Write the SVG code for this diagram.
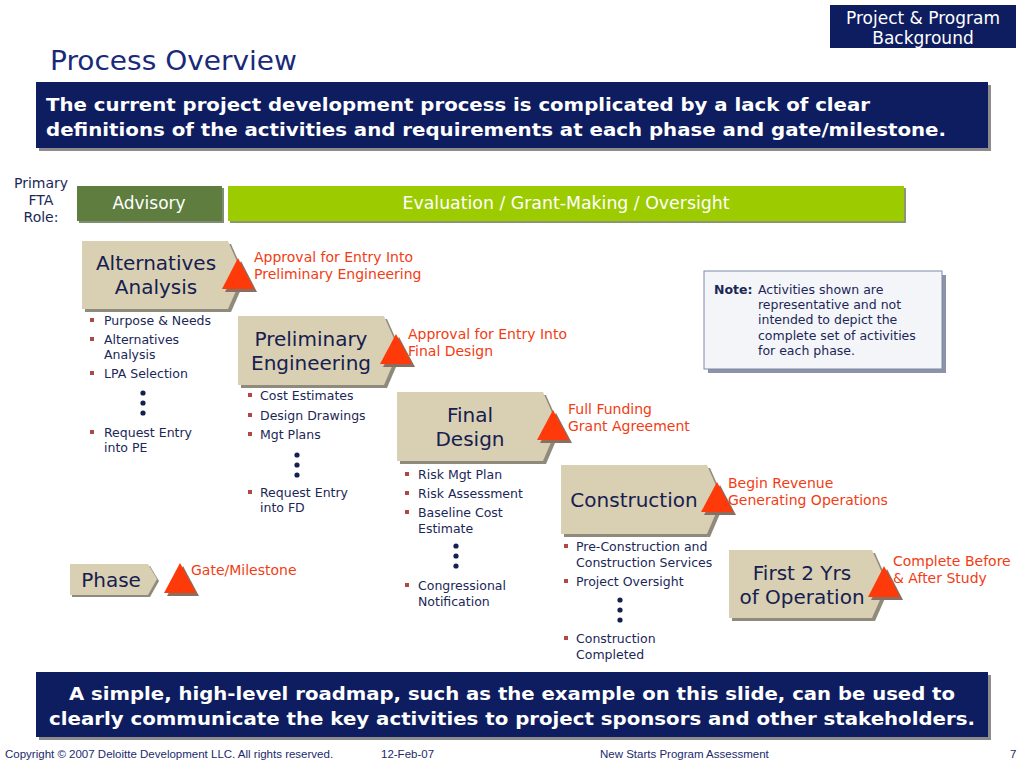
<svg xmlns="http://www.w3.org/2000/svg" width="1024" height="768" viewBox="0 0 1024 768">
<defs>
<style>
text{font-family:"DejaVu Sans",Verdana,sans-serif;}
.navy{fill:#0E1D5F;}
.shadow{fill:#8C8C8C;}
.phase{fill:#D9CFB3;}
.phs{fill:#8E8A7C;}
.ptxt{fill:#15204F;font-size:20px;text-anchor:middle;}
.gate{fill:#FF3A0A;}
.gsh{fill:#8A6F60;}
.glbl{fill:#F23C14;font-size:14px;}
.bl{fill:#1B2757;font-size:12.5px;}
.bul{fill:#B04848;}
.dot{fill:#15204F;}
.hdr{fill:#FFFFFF;font-size:18.5px;font-weight:bold;}
.foot{font-family:"Liberation Sans",Arial,sans-serif;font-size:11.5px;fill:#1B2A6C;}
</style>
</defs>
<rect width="1024" height="768" fill="#FFFFFF"/>

<g id="section-tag">
<rect x="830" y="5" width="186" height="43" class="navy"/>
<text x="923" y="24" fill="#FFFFFF" font-size="17" text-anchor="middle">Project &amp; Program</text>
<text x="923" y="44" fill="#FFFFFF" font-size="17" text-anchor="middle">Background</text>
</g>

<g id="title">
<text x="50" y="70" fill="#1B2A78" font-size="27" textLength="247" lengthAdjust="spacingAndGlyphs">Process Overview</text>
</g>

<g id="header-banner">
<rect x="39" y="85" width="952" height="66" class="shadow"/>
<rect x="36" y="82" width="952" height="66" class="navy"/>
<text x="46" y="111" class="hdr" textLength="824" lengthAdjust="spacingAndGlyphs">The current project development process is complicated by a lack of clear</text>
<text x="46" y="136" class="hdr" textLength="900" lengthAdjust="spacingAndGlyphs">definitions of the activities and requirements at each phase and gate/milestone.</text>
</g>

<g id="role-label">
<text x="41" y="188" fill="#1B2757" font-size="14" text-anchor="middle">Primary</text>
<text x="41" y="205" fill="#1B2757" font-size="14" text-anchor="middle">FTA</text>
<text x="41" y="222" fill="#1B2757" font-size="14" text-anchor="middle">Role:</text>
</g>

<g id="role-advisory">
<rect x="79" y="188" width="145" height="35" fill="#7F8C74"/>
<rect x="77" y="186" width="145" height="35" fill="#5E7D3E"/>
<text x="149" y="209" fill="#FFFFFF" font-size="17" text-anchor="middle">Advisory</text>
</g>

<g id="role-evaluation">
<rect x="230" y="188" width="676" height="35" fill="#8A9670"/>
<rect x="228" y="186" width="676" height="35" fill="#9CCC00"/>
<text x="566" y="209" fill="#FFFFFF" font-size="17" text-anchor="middle" textLength="327" lengthAdjust="spacingAndGlyphs">Evaluation / Grant-Making / Oversight</text>
</g>

<g id="connectors"></g>

<g id="phase-aa">
<polygon class="phs" points="85,244 231,244 246,278 231,312 85,312"/>
<polygon class="phase" points="82,241 228,241 243,275 228,309 82,309"/>
<text x="156" y="270" class="ptxt">Alternatives</text>
<text x="156" y="294" class="ptxt">Analysis</text>
</g>
<g id="gate-aa">
<polygon class="gsh" points="241,261 257,292 225,292"/>
<polygon class="gate" points="238,258 254,289 222,289"/>
<text x="254" y="262" class="glbl">Approval for Entry Into</text>
<text x="254" y="279" class="glbl">Preliminary Engineering</text>
</g>
<g id="list-aa">
<rect x="90" y="318" width="4" height="4" class="bul"/>
<text x="104" y="325" class="bl">Purpose &amp; Needs</text>
<rect x="90" y="337" width="4" height="4" class="bul"/>
<text x="104" y="344" class="bl">Alternatives</text>
<text x="104" y="359" class="bl">Analysis</text>
<rect x="90" y="371" width="4" height="4" class="bul"/>
<text x="104" y="378" class="bl">LPA Selection</text>
<circle cx="143" cy="393" r="2.6" class="dot"/>
<circle cx="143" cy="403" r="2.6" class="dot"/>
<circle cx="143" cy="413" r="2.6" class="dot"/>
<rect x="90" y="430" width="4" height="4" class="bul"/>
<text x="104" y="437" class="bl">Request Entry</text>
<text x="104" y="452" class="bl">into PE</text>
</g>

<g id="phase-pe">
<polygon class="phs" points="241,319 387,319 402,353 387,388 241,388"/>
<polygon class="phase" points="238,316 384,316 399,350 384,385 238,385"/>
<text x="311" y="346" class="ptxt">Preliminary</text>
<text x="311" y="370" class="ptxt">Engineering</text>
</g>
<g id="gate-pe">
<polygon class="gsh" points="399,337 415,367 383,367"/>
<polygon class="gate" points="396,334 412,364 380,364"/>
<text x="408" y="339" class="glbl">Approval for Entry Into</text>
<text x="408" y="356" class="glbl">Final Design</text>
</g>
<g id="list-pe">
<rect x="248" y="393" width="4" height="4" class="bul"/>
<text x="260" y="400" class="bl">Cost Estimates</text>
<rect x="248" y="413" width="4" height="4" class="bul"/>
<text x="260" y="420" class="bl">Design Drawings</text>
<rect x="248" y="432" width="4" height="4" class="bul"/>
<text x="260" y="439" class="bl">Mgt Plans</text>
<circle cx="297" cy="455" r="2.6" class="dot"/>
<circle cx="297" cy="465" r="2.6" class="dot"/>
<circle cx="297" cy="475" r="2.6" class="dot"/>
<rect x="248" y="490" width="4" height="4" class="bul"/>
<text x="260" y="497" class="bl">Request Entry</text>
<text x="260" y="512" class="bl">into FD</text>
</g>

<g id="phase-fd">
<polygon class="phs" points="400,395 546,395 561,429 546,464 400,464"/>
<polygon class="phase" points="397,392 543,392 558,426 543,461 397,461"/>
<text x="470" y="422" class="ptxt">Final</text>
<text x="470" y="446" class="ptxt">Design</text>
</g>
<g id="gate-fd">
<polygon class="gsh" points="556,413 572,443 540,443"/>
<polygon class="gate" points="553,410 569,440 537,440"/>
<text x="568" y="414" class="glbl">Full Funding</text>
<text x="568" y="431" class="glbl">Grant Agreement</text>
</g>
<g id="list-fd">
<rect x="405" y="472" width="4" height="4" class="bul"/>
<text x="418" y="479" class="bl">Risk Mgt Plan</text>
<rect x="405" y="491" width="4" height="4" class="bul"/>
<text x="418" y="498" class="bl">Risk Assessment</text>
<rect x="405" y="510" width="4" height="4" class="bul"/>
<text x="418" y="517" class="bl">Baseline Cost</text>
<text x="418" y="533" class="bl">Estimate</text>
<circle cx="456" cy="546" r="2.6" class="dot"/>
<circle cx="456" cy="556" r="2.6" class="dot"/>
<circle cx="456" cy="566" r="2.6" class="dot"/>
<rect x="405" y="583" width="4" height="4" class="bul"/>
<text x="418" y="590" class="bl">Congressional</text>
<text x="418" y="606" class="bl">Notification</text>
</g>

<g id="phase-con">
<polygon class="phs" points="564,468 710,468 725,502 710,537 564,537"/>
<polygon class="phase" points="561,465 707,465 722,499 707,534 561,534"/>
<text x="634" y="507" class="ptxt">Construction</text>
</g>
<g id="gate-con">
<polygon class="gsh" points="720,485 736,515 704,515"/>
<polygon class="gate" points="717,482 733,512 701,512"/>
<text x="728" y="488" class="glbl">Begin Revenue</text>
<text x="728" y="505" class="glbl">Generating Operations</text>
</g>
<g id="list-con">
<rect x="564" y="544" width="4" height="4" class="bul"/>
<text x="576" y="551" class="bl">Pre-Construction and</text>
<text x="576" y="567" class="bl">Construction Services</text>
<rect x="564" y="579" width="4" height="4" class="bul"/>
<text x="576" y="586" class="bl">Project Oversight</text>
<circle cx="620" cy="600" r="2.6" class="dot"/>
<circle cx="620" cy="610" r="2.6" class="dot"/>
<circle cx="620" cy="620" r="2.6" class="dot"/>
<rect x="564" y="636" width="4" height="4" class="bul"/>
<text x="576" y="643" class="bl">Construction</text>
<text x="576" y="659" class="bl">Completed</text>
</g>

<g id="phase-ops">
<polygon class="phs" points="732,553 875,553 890,587 875,621 732,621"/>
<polygon class="phase" points="729,550 872,550 887,584 872,618 729,618"/>
<text x="802" y="580" class="ptxt">First 2 Yrs</text>
<text x="802" y="604" class="ptxt">of Operation</text>
</g>
<g id="gate-ops">
<polygon class="gsh" points="887,569 903,600 871,600"/>
<polygon class="gate" points="884,566 900,597 868,597"/>
<text x="893" y="566" class="glbl">Complete Before</text>
<text x="893" y="583" class="glbl">&amp; After Study</text>
</g>

<g id="note">
<rect x="708" y="275" width="238" height="98" fill="#8C93A6"/>
<rect x="704" y="271" width="238" height="98" fill="#F4F5F8" stroke="#7C8AA8" stroke-width="1"/>
<text x="714" y="294" class="bl" font-weight="bold">Note:</text>
<text x="758" y="294" class="bl">Activities shown are</text>
<text x="758" y="309" class="bl">representative and not</text>
<text x="758" y="324" class="bl">intended to depict the</text>
<text x="758" y="340" class="bl">complete set of activities</text>
<text x="758" y="355" class="bl">for each phase.</text>
</g>

<g id="legend-phase">
<polygon class="phs" points="72,566 150,566 159,581 150,597 72,597"/>
<polygon class="phase" points="70,564 148,564 157,579 148,595 70,595"/>
<text x="111" y="587" class="ptxt">Phase</text>
</g>
<g id="legend-gate">
<polygon class="gsh" points="183,566 199,596 167,596"/>
<polygon class="gate" points="180,563 196,593 164,593"/>
<text x="191" y="575" class="glbl" font-size="14.5">Gate/Milestone</text>
</g>

<g id="bottom-banner">
<rect x="39" y="675" width="952" height="65" class="shadow"/>
<rect x="36" y="672" width="952" height="65" class="navy"/>
<text x="512" y="700" class="hdr" text-anchor="middle" textLength="886" lengthAdjust="spacingAndGlyphs">A simple, high-level roadmap, such as the example on this slide, can be used to</text>
<text x="512" y="725" class="hdr" text-anchor="middle" textLength="926" lengthAdjust="spacingAndGlyphs">clearly communicate the key activities to project sponsors and other stakeholders.</text>
</g>

<g id="footer">
<text x="5" y="758" class="foot">Copyright © 2007 Deloitte Development LLC. All rights reserved.</text>
<text x="381" y="758" class="foot">12-Feb-07</text>
<text x="600" y="758" class="foot">New Starts Program Assessment</text>
<text x="1010" y="758" class="foot">7</text>
</g>
</svg>
